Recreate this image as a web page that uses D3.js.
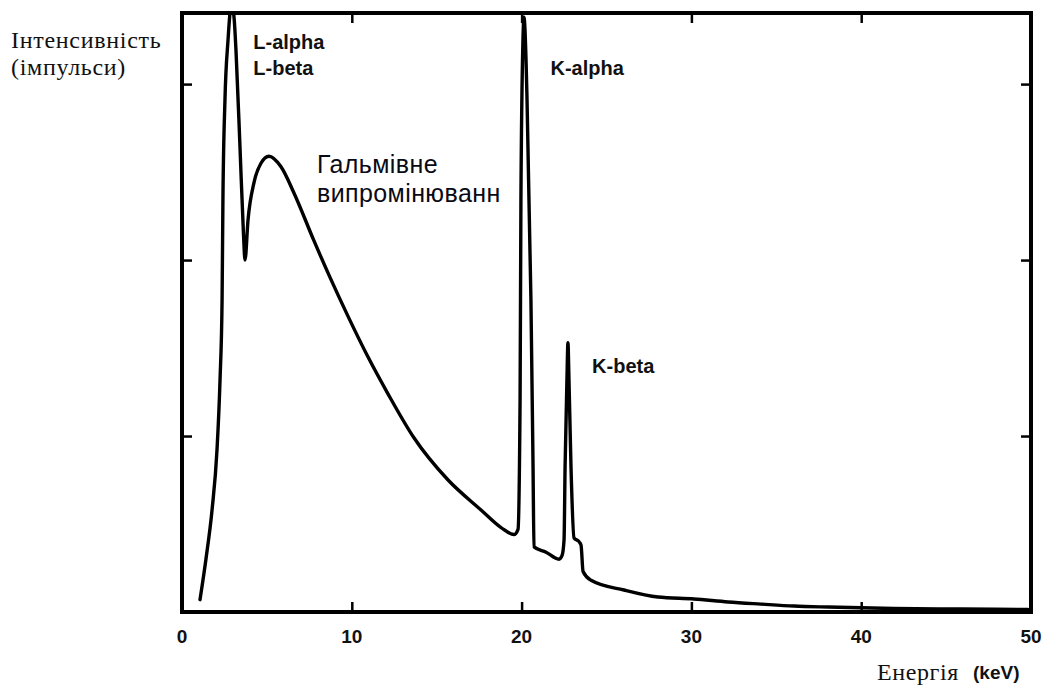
<!DOCTYPE html>
<html>
<head>
<meta charset="utf-8">
<script src="https://cdn.jsdelivr.net/npm/d3@7"></script>
<style>
  html, body { margin: 0; padding: 0; background: #fff; }
  svg { display: block; }
</style>
</head>
<body>
<svg id="chart" width="1046" height="686"></svg>
<script>
// ---- data ----
const energy = [1.06, 1.41, 1.77, 2.06, 2.24, 2.36, 2.41, 2.53, 2.71, 2.92, 3.08, 3.18, 3.42, 3.62, 3.71,
  3.89, 4.24, 4.65, 5.12, 5.83, 6.60, 7.77, 8.77, 9.78, 10.95, 12.13, 13.66, 15.67, 17.61, 18.79, 19.55,
  19.79, 19.91, 19.96, 20.08, 20.14, 20.26, 20.32, 20.55, 20.67, 20.73, 21.44, 22.20, 22.38, 22.50, 22.56,
  22.67, 22.73, 22.79, 22.91, 23.09, 23.38, 23.50, 23.62, 24.09, 26.03, 28.03, 30.15, 32.16, 34.10, 36.04,
  38.05, 41.93, 45.88, 49.82];
const intensity = [0.07, 0.30, 0.58, 0.92, 1.32, 1.77, 2.34, 2.91, 3.25, 3.46, 3.36, 3.19, 2.63, 2.15, 2.00,
  2.23, 2.44, 2.55, 2.59, 2.53, 2.38, 2.11, 1.89, 1.68, 1.45, 1.24, 0.99, 0.75, 0.58, 0.48, 0.44,
  0.47, 1.20, 2.34, 3.25, 3.38, 3.14, 2.91, 1.77, 0.86, 0.37, 0.34, 0.30, 0.32, 0.41, 0.82,
  1.32, 1.53, 1.32, 0.82, 0.42, 0.40, 0.38, 0.23, 0.18, 0.125, 0.085, 0.074, 0.057, 0.045, 0.034,
  0.028, 0.020, 0.017, 0.014];
const xTicks = [0, 10, 20, 30, 40, 50];
const yTicks = [1, 2, 3];
const peakLabels = [
  { text: "L-alpha", e: 4.2, v: 3.20 },
  { text: "L-beta", e: 4.2, v: 3.05 },
  { text: "K-alpha", e: 21.7, v: 3.05 },
  { text: "K-beta", e: 24.15, v: 1.36 }
];
const yTitle = ["Інтенсивність", "(імпульси)"];
const xTitle = "Енергія";
const xUnit = "(keV)";
const bremsLines = ["Гальмівне", "випромінюванн"];

// ---- layout ----
const svg = d3.select("#chart");
const L = 182, R = 1031, T = 13, B = 612;
const x = d3.scaleLinear().domain([0, 50]).range([L, R]);
const y = d3.scaleLinear().domain([0, 3.404]).range([B, T]);

svg.append("defs").append("clipPath").attr("id", "plotclip")
  .append("rect").attr("x", L).attr("y", T).attr("width", R - L).attr("height", B - T);

const pts = energy.map((e, i) => [e, intensity[i]]);
const line = d3.line().x(d => x(d[0])).y(d => y(d[1])).curve(d3.curveMonotoneX);

svg.append("path")
  .attr("d", line(pts))
  .attr("clip-path", "url(#plotclip)")
  .attr("fill", "none")
  .attr("stroke", "#000")
  .attr("stroke-width", 3.4)
  .attr("stroke-linejoin", "round")
  .attr("stroke-linecap", "round");

// ticks (inward) via axes
function styleAxis(g) {
  g.select(".domain").remove();
  g.selectAll(".tick line").attr("stroke", "#000").attr("stroke-width", 2.5);
}
const innerX = xTicks.filter(t => t > 0 && t < 50);
svg.append("g").attr("transform", `translate(0,${B})`)
  .call(d3.axisBottom(x).tickValues(innerX).tickSize(-10).tickFormat(""))
  .call(styleAxis);
svg.append("g").attr("transform", `translate(0,${T})`)
  .call(d3.axisTop(x).tickValues(innerX).tickSize(-10).tickFormat(""))
  .call(styleAxis);
svg.append("g").attr("transform", `translate(${L},0)`)
  .call(d3.axisLeft(y).tickValues(yTicks).tickSize(-10).tickFormat(""))
  .call(styleAxis);
svg.append("g").attr("transform", `translate(${R},0)`)
  .call(d3.axisRight(y).tickValues(yTicks).tickSize(-10).tickFormat(""))
  .call(styleAxis);

// frame
svg.append("rect")
  .attr("x", L).attr("y", T).attr("width", R - L).attr("height", B - T)
  .attr("fill", "none").attr("stroke", "#000").attr("stroke-width", 4);

// x tick labels
svg.append("g").selectAll("text").data(xTicks).join("text")
  .attr("x", d => x(d)).attr("y", 643)
  .attr("text-anchor", "middle")
  .attr("font-family", "'Liberation Sans', Arial, sans-serif")
  .attr("font-weight", "bold").attr("font-size", 19)
  .attr("fill", "#111")
  .text(d => d);

// peak labels
svg.append("g").selectAll("text").data(peakLabels).join("text")
  .attr("x", d => x(d.e)).attr("y", d => y(d.v))
  .attr("font-family", "'Liberation Sans', Arial, sans-serif")
  .attr("font-weight", "bold").attr("font-size", 20)
  .attr("fill", "#111")
  .text(d => d.text);

// bremsstrahlung label
svg.append("g").selectAll("text").data(bremsLines).join("text")
  .attr("x", 317).attr("y", (d, i) => 173 + i * 29)
  .attr("font-family", "'Liberation Sans', Arial, sans-serif")
  .attr("font-size", 25).attr("letter-spacing", 0.4)
  .attr("fill", "#0a0a14")
  .text(d => d);

// y title
svg.append("g").selectAll("text").data(yTitle).join("text")
  .attr("x", 11).attr("y", (d, i) => 48 + i * 27)
  .attr("font-family", "'Liberation Serif', 'Times New Roman', serif")
  .attr("font-size", 24).attr("letter-spacing", 0.7)
  .attr("fill", "#111")
  .text(d => d);

// x title
svg.append("text")
  .attr("x", 877).attr("y", 680)
  .attr("font-family", "'Liberation Serif', 'Times New Roman', serif")
  .attr("font-size", 24).attr("letter-spacing", 0.6).attr("fill", "#111")
  .text(xTitle);
svg.append("text")
  .attr("x", 973).attr("y", 679)
  .attr("font-family", "'Liberation Sans', Arial, sans-serif")
  .attr("font-weight", "bold").attr("font-size", 19).attr("fill", "#111")
  .text(xUnit);
</script>
</body>
</html>
